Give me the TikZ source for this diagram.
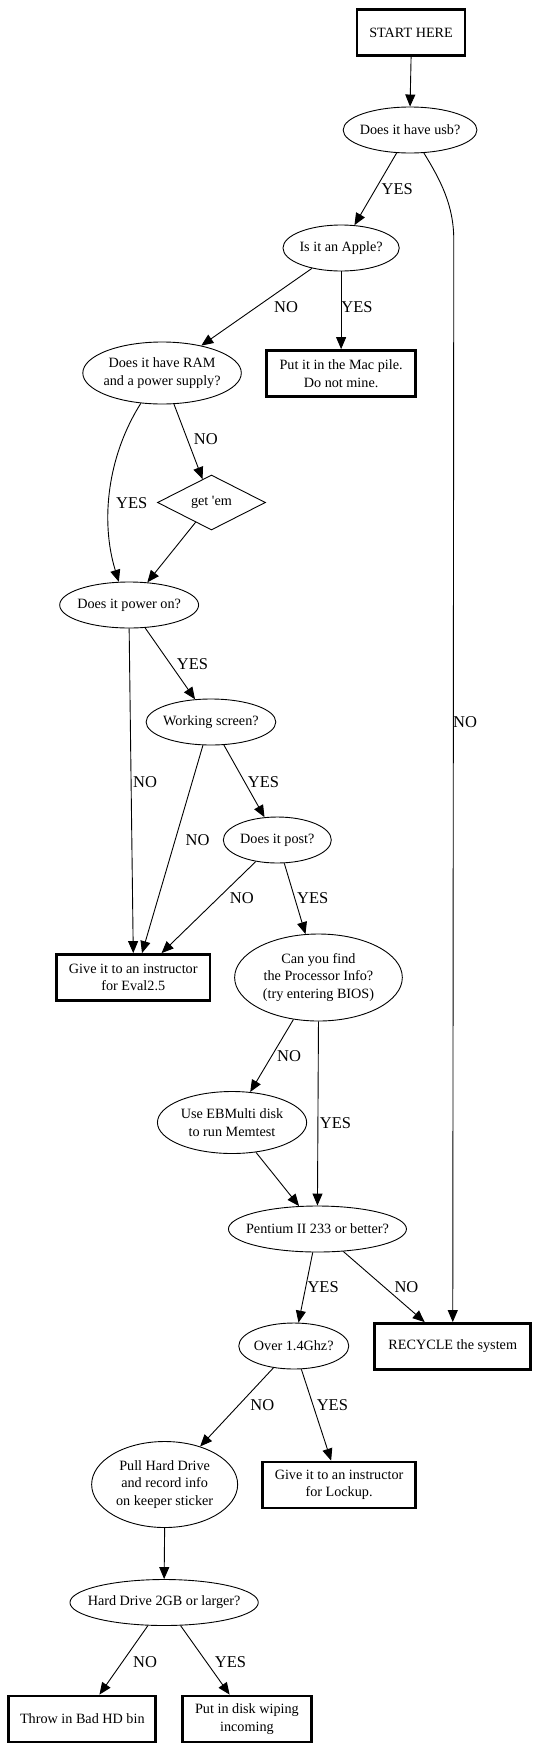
\documentclass[tikz,border=0pt]{standalone}
\usepackage{fontspec}
\setmainfont{Liberation Serif}
\usetikzlibrary{shapes.geometric,arrows.meta}
\newcommand\dgnodefont{\fontsize{14.2}{17.5}\selectfont}
\newcommand\dglabelfont{\fontsize{16.5}{18}\selectfont}
\newcommand\dgapos{{\addfontfeature{Ligatures=TeXOff}'}}
\begin{document}
\begin{tikzpicture}[x=1.029pt,y=-1pt,
  ell/.style={draw,ellipse,line width=0.9pt,inner xsep=-25pt,inner ysep=-10pt,font=\dgnodefont,align=center},
  box/.style={draw,rectangle,line width=2.8pt,inner sep=0pt,font=\dgnodefont,align=center},
  dia/.style={draw,diamond,shape aspect=1.9,inner sep=0pt,line width=0.9pt,font=\dgnodefont},
  lbl/.style={font=\dglabelfont,inner sep=0pt},
  arr/.style={draw,line width=0.9pt,-{Triangle[length=12pt,width=10pt]}}]
\useasboundingbox (0,0) rectangle (522.8,1751);

% nodes
\node[box,minimum width=108,minimum height=46] (start) at (399.5,32.5) {START HERE};
\node[ell,minimum width=133.8,minimum height=46] (usb) at (398.5,130) {Does it have usb?};
\node[ell,minimum width=116.3,minimum height=46] (apple) at (331.5,248) {Is it an Apple?};
\node[ell,minimum width=158.5,minimum height=62] (ram) at (157.5,373) {Does it have RAM\\and a power supply?};
\node[box,minimum width=149.2,minimum height=46] (mac) at (331.5,373.5) {Put it in the Mac pile.\\Do not mine.};
\node[dia,minimum width=108,minimum height=55] (getem) at (205.5,502.5) {get \dgapos em};
\node[ell,minimum width=138.9,minimum height=46] (power) at (125.5,605) {Does it power on?};
\node[ell,minimum width=129.7,minimum height=46] (screen) at (205,722) {Working screen?};
\node[ell,minimum width=108,minimum height=46] (post) at (269.5,840) {Does it post?};
\node[box,minimum width=153.3,minimum height=46] (eval) at (129.5,977.5) {Give it to an instructor\\for Eval2.5};
\node[ell,minimum width=167.7,minimum height=87] (proc) at (309.5,977.5) {Can you find\\the Processor Info?\\(try entering BIOS)};
\node[ell,minimum width=149.2,minimum height=62] (ebm) at (225.5,1122.5) {Use EBMulti disk\\to run Memtest};
\node[ell,minimum width=178,minimum height=46] (pent) at (308.5,1229) {Pentium II 233 or better?};
\node[box,minimum width=156,minimum height=46] (recycle) at (440,1346.5) {RECYCLE the system};
\node[ell,minimum width=110,minimum height=46] (over) at (285.5,1346) {Over 1.4Ghz?};
\node[ell,minimum width=146,minimum height=86] (pull) at (160,1484.5) {Pull Hard Drive\\and record info\\on keeper sticker};
\node[box,minimum width=153.3,minimum height=46] (lockup) at (329.5,1485) {Give it to an instructor\\for Lockup.};
\node[ell,minimum width=188.3,minimum height=46] (hd) at (159.5,1602.5) {Hard Drive 2GB or larger?};
\node[box,minimum width=147,minimum height=46] (throw) at (80,1719) {Throw in Bad HD bin};
\node[box,minimum width=129.7,minimum height=46] (wipe) at (240,1719) {Put in disk wiping\\incoming};

% edges
\path[arr] (start.south) -- (usb.north);
\path[arr] (usb) -- (apple);
\path[arr] (usb.301) .. controls (428,180) and (441,205) .. (441,240) -- (recycle.north);
\path[arr] (apple) -- (ram);
\path[arr] (apple.south) -- (mac.north);
\path[arr] (ram.235.7) .. controls (105,455) and (97,520) .. (power.114.5);
\path[arr] (ram) -- (getem);
\path[arr] (getem) -- (power);
\path[arr] (power) -- (screen);
\path[arr] (power.south) -- (eval.north);
\path[arr] (screen.251.6) -- ([xshift=8.75pt]eval.north);
\path[arr] (screen) -- (post);
\path[arr] (post.225.7) -- ([xshift=28.3pt]eval.north);
\path[arr] (post) -- (proc);
\path[arr] (proc) -- (ebm);
\path[arr] (proc.south) -- (pent.north);
\path[arr] (ebm) -- (pent);
\path[arr] (pent) -- (over);
\path[arr] (pent) -- (recycle);
\path[arr] (over) -- (pull);
\path[arr] (over) -- (lockup);
\path[arr] (pull.south) -- (hd.north);
\path[arr] (hd) -- (throw);
\path[arr] (hd) -- (wipe);

% edge labels
\node[lbl] (l1) at (386,189) {YES};
\node[lbl] (l2) at (278,307) {NO};
\node[lbl] (l3) at (347,307) {YES};
\node[lbl] (l4) at (452,722) {NO};
\node[lbl] (l5) at (200,439) {NO};
\node[lbl] (l6) at (128,503) {YES};
\node[lbl] (l7) at (187,664) {YES};
\node[lbl] (l8) at (141,782) {NO};
\node[lbl] (l9) at (256,782) {YES};
\node[lbl] (l10) at (192,840) {NO};
\node[lbl] (l11) at (235,898) {NO};
\node[lbl] (l12) at (304,898) {YES};
\node[lbl] (l13) at (281,1056) {NO};
\node[lbl] (l14) at (326,1123) {YES};
\node[lbl] (l15) at (314,1287) {YES};
\node[lbl] (l16) at (395,1287) {NO};
\node[lbl] (l17) at (255,1405) {NO};
\node[lbl] (l18) at (323,1405) {YES};
\node[lbl] (l19) at (141,1662) {NO};
\node[lbl] (l20) at (224,1662) {YES};
\end{tikzpicture}
\end{document}
